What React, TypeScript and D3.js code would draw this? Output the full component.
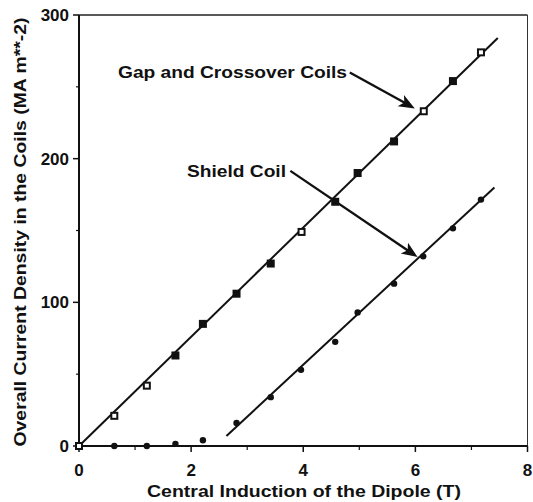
import React from 'react';
import * as d3 from 'd3';

// Gap and Crossover coils (squares)
const gapB = [0, 0.63, 1.21, 1.72, 2.21, 2.81, 3.42, 3.97, 4.57, 4.97, 5.62, 6.15, 6.67, 7.17];
const gapJ = [0, 21, 42, 63, 85, 106, 127, 149, 170, 190, 212, 233, 254, 274];
const gapFilled = [false, false, false, true, true, true, true, false, true, true, true, false, true, false];

// Shield coil (dots)
const shieldB = [0, 0.63, 1.21, 1.72, 2.21, 2.81, 3.42, 3.96, 4.57, 4.97, 5.62, 6.14, 6.67, 7.17];
const shieldJ = [0, 0, 0, 1.5, 4, 16, 34, 53, 72.5, 93, 113, 132, 151.5, 171.5];

// fitted lines [B, J]
const gapFit = [[0, 0], [7.47, 284]];
const shieldFit = [[2.63, 7], [7.41, 180]];

// annotation arrows [from, to]
const gapArrow = [[4.83, 260], [5.99, 235]];
const shieldArrow = [[3.77, 191.5], [6.04, 131.5]];

const xTicks = [0, 2, 4, 6, 8];
const xMinor = [1, 3, 5, 7];
const yTicks = [0, 100, 200, 300];
const yMinor = [50, 150, 250];

const font = '"Liberation Sans", Arial, Helvetica, sans-serif';

export default function App() {
  const margin = { top: 15, right: 5.5, bottom: 56, left: 79 };
  const W = 533, H = 502;
  const x = d3.scaleLinear().domain([0, 8]).range([margin.left, W - margin.right]);
  const y = d3.scaleLinear().domain([0, 300]).range([H - margin.bottom, margin.top]);
  const line = d3.line<number[]>().x(d => x(d[0])).y(d => y(d[1]));

  // arrowhead polygon at the end of an arrow, in pixels
  const head = (a: number[][]) => {
    const x1 = x(a[0][0]), y1 = y(a[0][1]), x2 = x(a[1][0]), y2 = y(a[1][1]);
    const ang = Math.atan2(y2 - y1, x2 - x1);
    const len = 16, half = 6.5, notch = 4;
    const c = Math.cos(ang), s = Math.sin(ang);
    const bx = x2 - len * c, by = y2 - len * s;
    const pts = [
      [x2, y2],
      [bx - half * s, by + half * c],
      [x2 - (len - notch) * c, y2 - (len - notch) * s],
      [bx + half * s, by - half * c],
    ];
    return pts.map(p => p.join(',')).join(' ');
  };
  const shaft = (a: number[][]) => {
    const x1 = x(a[0][0]), y1 = y(a[0][1]), x2 = x(a[1][0]), y2 = y(a[1][1]);
    const ang = Math.atan2(y2 - y1, x2 - x1);
    return `M${x1},${y1}L${x2 - 10 * Math.cos(ang)},${y2 - 10 * Math.sin(ang)}`;
  };

  return (
    <svg width={W} height={H} style={{ position: 'absolute', left: 0, top: 0, background: '#fff' }}>
      {/* frame */}
      <line x1={x(0)} x2={x(8)} y1={y(300)} y2={y(300)} stroke="#222" strokeWidth={1.5} />
      <line x1={x(8)} x2={x(8)} y1={y(300)} y2={y(0)} stroke="#333" strokeWidth={1} />
      <line x1={x(0)} x2={x(0)} y1={y(300)} y2={y(0)} stroke="#111" strokeWidth={2} />
      <line x1={x(0)} x2={x(8)} y1={y(0)} y2={y(0)} stroke="#111" strokeWidth={2} />

      {/* ticks */}
      {xTicks.map(t => (
        <line key={'xt' + t} x1={x(t)} x2={x(t)} y1={y(0)} y2={y(0) + 6} stroke="#111" strokeWidth={1.5} />
      ))}
      {xMinor.map(t => (
        <line key={'xm' + t} x1={x(t)} x2={x(t)} y1={y(0)} y2={y(0) + 4} stroke="#111" strokeWidth={1.2} />
      ))}
      {yTicks.map(t => (
        <line key={'yt' + t} x1={x(0) - 6} x2={x(0)} y1={y(t)} y2={y(t)} stroke="#111" strokeWidth={1.5} />
      ))}
      {yMinor.map(t => (
        <line key={'ym' + t} x1={x(0) - 3} x2={x(0)} y1={y(t)} y2={y(t)} stroke="#111" strokeWidth={1.2} />
      ))}

      {/* tick labels */}
      {xTicks.map(t => (
        <text key={'xl' + t} x={x(t)} y={y(0) + 30} textAnchor="middle" fontFamily={font}
          fontWeight="bold" fontSize={17} fill="#111">{t}</text>
      ))}
      {yTicks.map(t => (
        <text key={'yl' + t} x={x(0) - 10} y={y(t) + 6} textAnchor="end" fontFamily={font}
          fontWeight="bold" fontSize={17} fill="#111">{t}</text>
      ))}

      {/* axis titles */}
      <text x={304} y={497} textAnchor="middle" fontFamily={font} fontWeight="bold" fontSize={17}
        fill="#111" textLength={314} lengthAdjust="spacingAndGlyphs">Central Induction of the Dipole (T)</text>
      <text transform="translate(26,232) rotate(-90)" textAnchor="middle" fontFamily={font}
        fontWeight="bold" fontSize={16} fill="#111" textLength={429} lengthAdjust="spacingAndGlyphs">
        Overall Current Density in the Coils (MA m**-2)
      </text>

      {/* fitted lines */}
      <path d={line(gapFit) || ''} fill="none" stroke="#111" strokeWidth={2} />
      <path d={line(shieldFit) || ''} fill="none" stroke="#111" strokeWidth={2} />

      {/* data */}
      {shieldB.map((b, i) => (
        <circle key={'s' + i} cx={x(b)} cy={y(shieldJ[i])} r={3.2} fill="#111" />
      ))}
      {gapB.map((b, i) => (
        <rect key={'g' + i} x={x(b) - 3} y={y(gapJ[i]) - 3} width={6} height={6}
          fill={gapFilled[i] ? '#111' : '#fff'} stroke="#111" strokeWidth={2} />
      ))}

      {/* annotations */}
      <text x={118} y={78} fontFamily={font} fontWeight="bold" fontSize={16} fill="#111"
        textLength={229} lengthAdjust="spacingAndGlyphs">Gap and Crossover Coils</text>
      <path d={shaft(gapArrow)} fill="none" stroke="#111" strokeWidth={2.4} />
      <polygon points={head(gapArrow)} fill="#111" />
      <text x={187} y={177} fontFamily={font} fontWeight="bold" fontSize={16} fill="#111"
        textLength={99} lengthAdjust="spacingAndGlyphs">Shield Coil</text>
      <path d={shaft(shieldArrow)} fill="none" stroke="#111" strokeWidth={2.4} />
      <polygon points={head(shieldArrow)} fill="#111" />
    </svg>
  );
}
